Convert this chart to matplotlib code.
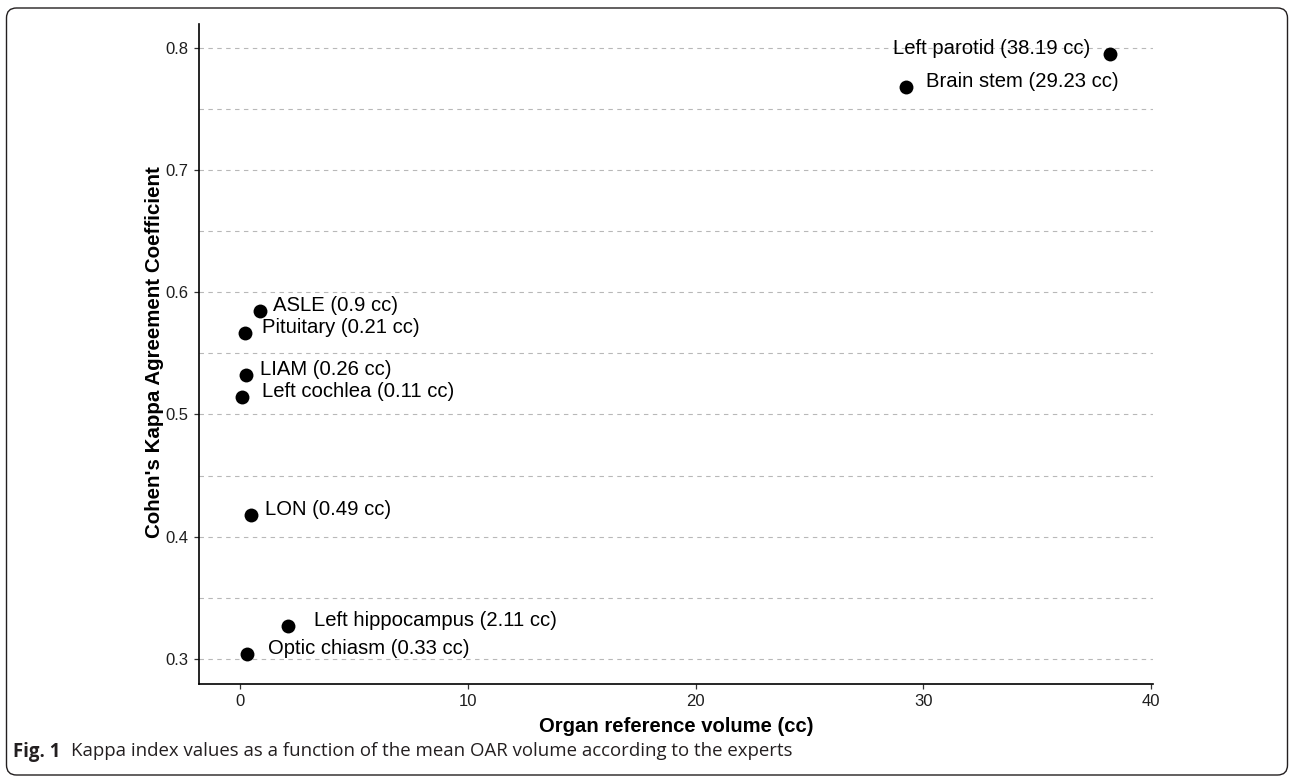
import matplotlib
matplotlib.use("Agg")
import matplotlib.pyplot as plt
from matplotlib.patches import FancyBboxPatch
from matplotlib.transforms import IdentityTransform
from matplotlib.ticker import MultipleLocator

plt.rcParams["font.family"] = ["Liberation Sans", "DejaVu Sans"]

# ---- data ----
organs = ["Left parotid", "Brain stem", "ASLE", "Pituitary", "LIAM",
          "Left cochlea", "LON", "Left hippocampus", "Optic chiasm"]
volumes = [38.19, 29.23, 0.9, 0.21, 0.26, 0.11, 0.49, 2.11, 0.33]
kappa = [0.795, 0.768, 0.585, 0.567, 0.532, 0.514, 0.418, 0.327, 0.304]
x_ticks = [0, 10, 20, 30, 40]
y_ticks = [0.3, 0.4, 0.5, 0.6, 0.7, 0.8]

# label placement (pixel offsets from point, horizontal alignment)
label_dx = [-20, 20, 13, 17, 14, 20, 14, 26, 21]
label_ha = ["right", "left", "left", "left", "left", "left", "left", "left", "left"]

W, H, DPI = 1292, 778, 100
fig = plt.figure(figsize=(W / DPI, H / DPI), dpi=DPI)
fig.patch.set_facecolor("white")

# rounded frame around the figure
frame = FancyBboxPatch((6.5, 3), 1281, 767, boxstyle="round,pad=0,rounding_size=10",
                       transform=IdentityTransform(), facecolor="none",
                       edgecolor="#231f20", linewidth=1.0, zorder=0)
fig.patches.append(frame)

ax = fig.add_axes([199.1 / W, 1 - 684.05 / H, 954.2 / W, (684.05 - 23.8) / H])
ax.set_facecolor("none")

# ggplot-like expansion (5%)
xr = max(volumes) - min(volumes)
yr = max(kappa) - min(kappa)
ax.set_xlim(min(volumes) - 0.05 * xr, max(volumes) + 0.05 * xr)
ax.set_ylim(min(kappa) - 0.05 * yr, max(kappa) + 0.05 * yr)

ax.set_xticks(x_ticks)
ax.set_yticks(y_ticks)
ax.set_xticklabels([f"{t:g}" for t in x_ticks])
ax.set_yticklabels([f"{t:g}" for t in y_ticks])
ax.yaxis.set_minor_locator(MultipleLocator(0.05))
ax.tick_params(axis="both", which="major", length=3.5, width=0.9, color="#333333",
               labelsize=12, labelcolor="#1e1e1e")
ax.tick_params(axis="y", which="major", pad=4)
ax.tick_params(axis="x", which="major", pad=3.5)
ax.tick_params(axis="both", which="minor", length=0)

ax.grid(True, axis="y", which="both", color="#b8b8b8", linewidth=0.8,
        linestyle=(0, (4, 4)))
ax.set_axisbelow(True)

for s in ["top", "right"]:
    ax.spines[s].set_visible(False)
for s in ["left", "bottom"]:
    ax.spines[s].set_linewidth(1.2)
    ax.spines[s].set_color("black")

ax.scatter(volumes, kappa, s=100, color="black", zorder=3, linewidths=0)

for name, v, k, dx, ha in zip(organs, volumes, kappa, label_dx, label_ha):
    ax.annotate(f"{name} ({v:g} cc)", (v, k), xytext=(dx, 0),
                textcoords="offset pixels", ha=ha, va="baseline",
                fontsize=14.6, color="black", zorder=4)

ax.set_xlabel("Organ reference volume (cc)", fontsize=14.6, fontweight="bold",
              va="baseline")
ax.xaxis.set_label_coords(0.5, (684.05 - 731.7) / 660.25)
ax.set_ylabel("Cohen's Kappa Agreement Coefficient", fontsize=14.8, fontweight="bold",
              va="baseline", ha="center", rotation_mode="anchor")
ax.yaxis.set_label_coords((159.5 - 199.1) / 954.2, (684.05 - 352) / 660.25)

# caption
fig.canvas.draw()
renderer = fig.canvas.get_renderer()
cap_font = ["Open Sans", "Noto Sans", "DejaVu Sans"]
bold_txt = "Fig. 1"
reg_txt = "Kappa index values as a function of the mean OAR volume according to the experts"
p1 = fig.text(0, 0, bold_txt, fontsize=10, fontweight="bold", fontfamily=cap_font)
p2 = fig.text(0, 0, reg_txt, fontsize=10, fontfamily=cap_font)
w1 = p1.get_window_extent(renderer).width
w2 = p2.get_window_extent(renderer).width
p1.remove()
p2.remove()
gap10 = 0.55 * 10 * DPI / 72
cap_size = 10 * (793.0 - 13.5) / (w1 + gap10 + w2)

base_y = 1 - 756.5 / H
t1 = fig.text(13.5 / W, base_y, bold_txt, fontsize=cap_size, fontweight="bold",
              fontfamily=cap_font, color="#231f20", va="baseline", ha="left")
bb = t1.get_window_extent(renderer)
fig.text((bb.x1 + 0.55 * cap_size * DPI / 72) / W, base_y, reg_txt,
         fontsize=cap_size, fontfamily=cap_font, color="#231f20", va="baseline", ha="left")

fig.savefig("out.png", dpi=DPI)
